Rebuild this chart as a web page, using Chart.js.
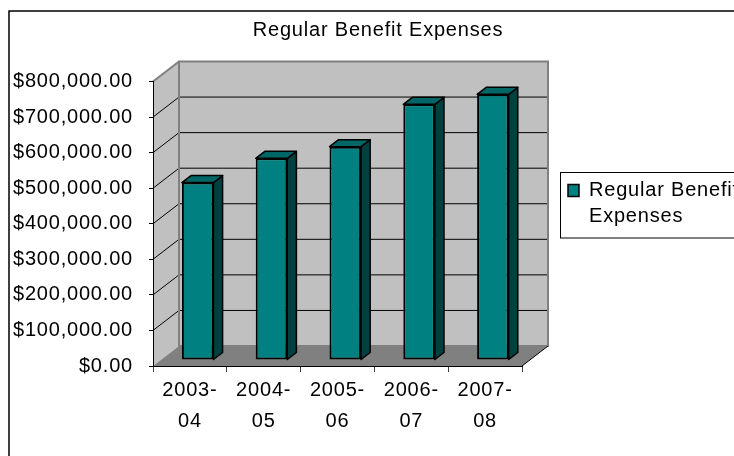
<!DOCTYPE html>
<html>
<head>
<meta charset="utf-8">
<script src="https://cdn.jsdelivr.net/npm/chart.js@4.4.1/dist/chart.umd.min.js"></script>
<style>
  html, body { margin: 0; padding: 0; background: #fff; }
  #wrap { width: 734px; height: 456px; position: relative; }
</style>
</head>
<body>
<div id="wrap"><canvas id="chart"></canvas></div>
<script>
// Fiscal years (two-line labels) and yearly totals
const categories = [['2003-', '04'], ['2004-', '05'], ['2005-', '06'], ['2006-', '07'], ['2007-', '08']];
const expenses = [499000, 567000, 600000, 719000, 747000];
const seriesName = 'Regular Benefit Expenses';
const legendLines = ['Regular Benefit', 'Expenses'];
const yTickLabels = ['$0.00', '$100,000.00', '$200,000.00', '$300,000.00', '$400,000.00',
                     '$500,000.00', '$600,000.00', '$700,000.00', '$800,000.00'];
const yMin = 0, yMax = 800000, yStep = 100000;

const FONT = "'Liberation Sans', Arial, sans-serif";
const FONT_SIZE = 20;
const TEXT_SPACING = '0.8px';
const DEPTH = { dx: 26, dy: -20 };        // receding offset of the floor / walls
const BAR_FRONT = 0.3, BAR_BACK = 0.65;   // bar depth within the floor
const WALL = '#C0C0C0', FLOOR = '#808080', EDGE = '#808080';
const BAR_FACE = '#008080', BAR_TOP = '#006666', BAR_SIDE = '#004040';
const TITLE_LEFT = 22;     // title is centred over the span from here to the right edge
const LEGEND_SPAN = 413;   // vertical band the legend is centred in

function poly(ctx, pts) {
  ctx.beginPath();
  ctx.moveTo(pts[0][0], pts[0][1]);
  for (let i = 1; i < pts.length; i++) ctx.lineTo(pts[i][0], pts[i][1]);
  ctx.closePath();
}

// wider character spacing for all canvas text
const spacing = {
  id: 'spacing',
  beforeLayout(chart) { chart.ctx.letterSpacing = TEXT_SPACING; },
  beforeDraw(chart) { chart.ctx.letterSpacing = TEXT_SPACING; }
};

// nudge the title and legend boxes after the layout pass
const placement = {
  id: 'placement',
  afterLayout(chart) {
    const t = chart.titleBlock;
    if (t) { t.left = TITLE_LEFT; t.width = t.right - t.left; }
    const lg = chart.legend;
    if (lg) { lg.top = 0; lg.bottom = LEGEND_SPAN; lg.height = LEGEND_SPAN; }
  }
};

// page frame, back wall, side wall, floor and wall gridlines
const room = {
  id: 'room',
  beforeDraw(chart) {
    const { ctx, chartArea: a, scales: { y } } = chart;
    const { dx, dy } = DEPTH;
    const w = a.right - a.left, h = a.bottom - a.top;
    ctx.save();
    ctx.fillStyle = '#fff';
    ctx.fillRect(0, 0, chart.width, chart.height);
    ctx.strokeStyle = '#000';
    ctx.lineWidth = 1.5;
    ctx.strokeRect(9, 11, chart.width + 20, chart.height + 20);

    ctx.fillStyle = WALL;
    ctx.fillRect(a.left + dx, a.top + dy, w, h);
    poly(ctx, [[a.left, a.top], [a.left + dx, a.top + dy], [a.left + dx, a.bottom + dy], [a.left, a.bottom]]);
    ctx.fill();
    ctx.fillStyle = FLOOR;
    poly(ctx, [[a.left, a.bottom], [a.right, a.bottom], [a.right + dx, a.bottom + dy], [a.left + dx, a.bottom + dy]]);
    ctx.fill();

    ctx.strokeStyle = '#000';
    ctx.lineWidth = 1;
    y.ticks.forEach(t => {
      if (t.value <= yMin || t.value >= yMax) return;
      const py = y.getPixelForValue(t.value);
      ctx.beginPath();
      ctx.moveTo(a.left, py);
      ctx.lineTo(a.left + dx, py + dy);
      ctx.lineTo(a.right + dx, py + dy);
      ctx.stroke();
    });

    ctx.strokeStyle = EDGE;
    ctx.lineWidth = 2;
    ctx.strokeRect(a.left + dx, a.top + dy, w, h);
    ctx.beginPath();
    ctx.moveTo(a.left, a.top);
    ctx.lineTo(a.left + dx, a.top + dy);
    ctx.stroke();

    ctx.strokeStyle = '#000';
    ctx.lineWidth = 1;
    ctx.beginPath();
    ctx.moveTo(a.right, a.bottom);
    ctx.lineTo(a.right + dx, a.bottom + dy);
    ctx.stroke();
    ctx.restore();
  }
};

// columns sit part-way into the floor; add their top and side faces
const prisms = {
  id: 'prisms',
  beforeDatasetsDraw(chart) {
    chart.ctx.save();
    chart.ctx.translate(DEPTH.dx * BAR_FRONT, DEPTH.dy * BAR_FRONT);
  },
  afterDatasetsDraw(chart) {
    const ctx = chart.ctx;
    const ddx = DEPTH.dx * (BAR_BACK - BAR_FRONT), ddy = DEPTH.dy * (BAR_BACK - BAR_FRONT);
    ctx.strokeStyle = '#000';
    ctx.lineWidth = 1.5;
    ctx.lineJoin = 'round';
    chart.getDatasetMeta(0).data.forEach(bar => {
      const { x, y, base, width } = bar.getProps(['x', 'y', 'base', 'width'], true);
      const l = x - width / 2, r = x + width / 2;
      ctx.fillStyle = BAR_SIDE;
      poly(ctx, [[r, y], [r + ddx, y + ddy], [r + ddx, base + ddy], [r, base]]);
      ctx.fill(); ctx.stroke();
      ctx.fillStyle = BAR_TOP;
      poly(ctx, [[l, y], [r, y], [r + ddx, y + ddy], [l + ddx, y + ddy]]);
      ctx.fill(); ctx.stroke();
    });
    ctx.restore();
  }
};

// framed legend box, running off the right edge
const legendFrame = {
  id: 'legendFrame',
  afterDraw(chart) {
    const lg = chart.legend;
    if (!lg || !lg.columnSizes || !lg.columnSizes.length) return;
    const pad = lg.options.labels.padding;
    const colH = lg.columnSizes[0].height;
    const y0 = (lg.top + pad + lg.bottom - colH) / 2;
    const ctx = chart.ctx;
    ctx.save();
    ctx.strokeStyle = '#000';
    ctx.lineWidth = 1;
    ctx.strokeRect(lg.left + 1.5, y0 - 8, 400, colH + 4.5);
    ctx.restore();
  }
};

new Chart(document.getElementById('chart'), {
  type: 'bar',
  data: {
    labels: categories,
    datasets: [{
      label: seriesName,
      data: expenses,
      yAxisID: 'y',
      backgroundColor: BAR_FACE,
      borderColor: '#000',
      borderWidth: 2,
      borderSkipped: false,
      categoryPercentage: 1,
      barPercentage: 0.428,
      clip: false
    }]
  },
  options: {
    responsive: true,
    maintainAspectRatio: false,
    animation: false,
    events: [],
    layout: { padding: 0 },
    scales: {
      x: {
        offset: true,
        grid: { display: true, drawOnChartArea: false, drawTicks: true, tickLength: 6, tickColor: '#404040', offset: true },
        border: { display: true, color: '#000', width: 1 },
        ticks: { color: '#000', font: { family: FONT, size: FONT_SIZE, lineHeight: 1.55 }, padding: 2.5, maxRotation: 0, autoSkip: false },
        afterFit(s) { s.height = 90; }
      },
      y: {
        min: yMin,
        max: yMax,
        grid: { display: true, drawOnChartArea: false, drawTicks: true, tickLength: 4, tickColor: '#000' },
        border: { display: true, color: '#000', width: 1 },
        ticks: {
          stepSize: yStep,
          autoSkip: false,
          color: '#000',
          padding: 16,
          font: { family: FONT, size: FONT_SIZE },
          callback: (v, i) => yTickLabels[i]
        },
        afterFit(s) { s.width = 153; }
      },
      depth: {
        type: 'linear',
        position: 'right',
        display: true,
        grid: { display: false },
        border: { display: false },
        ticks: { display: false },
        afterFit(s) { s.width = 37; }
      }
    },
    plugins: {
      title: {
        display: true,
        text: seriesName,
        color: '#000',
        font: { family: FONT, size: FONT_SIZE, weight: 'normal', lineHeight: 1.2 },
        padding: { top: 18, bottom: 39.5 }
      },
      legend: {
        position: 'right',
        align: 'center',
        fullSize: true,
        maxWidth: 175,
        labels: {
          boxWidth: 11,
          boxHeight: 12,
          padding: 9,
          color: '#000',
          font: { family: FONT, size: FONT_SIZE, lineHeight: 1.3 },
          generateLabels(chart) {
            const items = Chart.defaults.plugins.legend.labels.generateLabels(chart);
            items.forEach(it => { it.text = legendLines; it.lineWidth = 1.5; });
            return items;
          }
        }
      },
      tooltip: { enabled: false }
    }
  },
  plugins: [spacing, placement, room, prisms, legendFrame]
});
</script>
</body>
</html>
